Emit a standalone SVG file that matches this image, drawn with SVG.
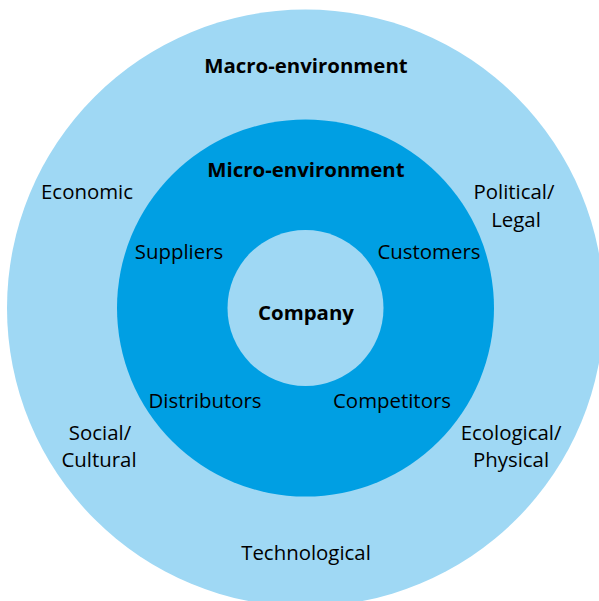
<svg xmlns="http://www.w3.org/2000/svg" width="599" height="601" viewBox="0 0 599 601">
<style>
.light{fill:#9fd8f4}
.mid{fill:#009fe3}
text{font-family:"Open Sans","Noto Sans",sans-serif;font-size:20.4px;fill:#000;text-anchor:middle}
.b{font-weight:bold}
</style>
<rect width="599" height="601" fill="#fff"/>
<g id="macro">
<circle class="light" cx="305.5" cy="308" r="298.5"/>
<text class="b" x="306" y="73">Macro-environment</text>
</g>
<g id="micro">
<circle class="mid" cx="305.5" cy="308" r="188.5"/>
<text class="b" x="306" y="177">Micro-environment</text>
</g>
<g id="company">
<circle class="light" cx="305.5" cy="308" r="78"/>
<text class="b" x="306" y="320">Company</text>
</g>
<g id="economic"><text x="87" y="199">Economic</text></g>
<g id="political"><text x="514" y="199">Political/</text><text x="516" y="227">Legal</text></g>
<g id="social"><text x="100" y="440">Social/</text><text x="99" y="467">Cultural</text></g>
<g id="ecological"><text x="511" y="440">Ecological/</text><text x="511" y="467">Physical</text></g>
<g id="technological"><text x="306" y="560">Technological</text></g>
<g id="suppliers"><text x="179" y="259">Suppliers</text></g>
<g id="customers"><text x="429" y="259">Customers</text></g>
<g id="distributors"><text x="205" y="408">Distributors</text></g>
<g id="competitors"><text x="392" y="408">Competitors</text></g>
<g id="connectors"/>
</svg>
